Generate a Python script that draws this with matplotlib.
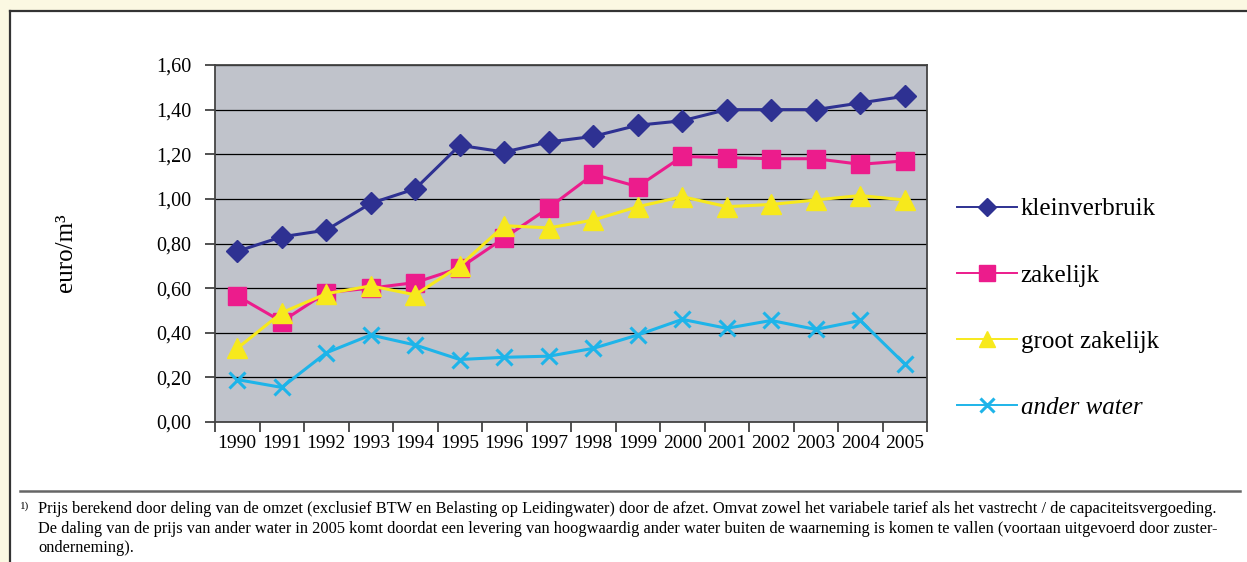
import matplotlib
matplotlib.use('Agg')
import matplotlib.pyplot as plt
from matplotlib.patches import Rectangle
from matplotlib.lines import Line2D
from matplotlib.ticker import FuncFormatter, FixedLocator
import numpy as np

# gegevens (euro/m3)
jaren = ['1990', '1991', '1992', '1993', '1994', '1995', '1996', '1997',
         '1998', '1999', '2000', '2001', '2002', '2003', '2004', '2005']
kleinverbruik = [0.765, 0.83, 0.86, 0.98, 1.045, 1.24, 1.21, 1.255,
                 1.28, 1.33, 1.35, 1.40, 1.40, 1.40, 1.43, 1.46]
zakelijk = [0.565, 0.45, 0.58, 0.60, 0.625, 0.69, 0.825, 0.96,
            1.11, 1.055, 1.19, 1.185, 1.18, 1.18, 1.155, 1.17]
groot_zakelijk = [0.33, 0.49, 0.575, 0.61, 0.57, 0.70, 0.88, 0.87,
                  0.905, 0.965, 1.01, 0.965, 0.975, 0.995, 1.015, 0.995]
ander_water = [0.19, 0.155, 0.31, 0.39, 0.345, 0.28, 0.29, 0.295,
               0.33, 0.39, 0.46, 0.42, 0.455, 0.415, 0.455, 0.26]

voetnoot = ("Prijs berekend door deling van de omzet (exclusief BTW en Belasting op Leidingwater) door de afzet. "
            "Omvat zowel het variabele tarief als het vastrecht / de capaciteitsvergoeding.\n"
            "De daling van de prijs van ander water in 2005 komt doordat een levering van hoogwaardig ander water "
            "buiten de waarneming is komen te vallen (voortaan uitgevoerd door zuster-\nonderneming).")

plt.rcParams['font.family'] = ['Liberation Serif', 'DejaVu Serif']

W, H = 1247, 562
fig = plt.figure(figsize=(W / 100, H / 100), dpi=100)
fig.patch.set_facecolor('#fbf8e2')

# wit kader
fig.add_artist(Rectangle((10 / W, 0), 1, 1 - 11 / H, transform=fig.transFigure,
                         facecolor='white', edgecolor='none', zorder=0))
fig.add_artist(Line2D([10 / W, 10 / W], [0, 1 - 11 / H], transform=fig.transFigure,
                      color='#333333', lw=1.6))
fig.add_artist(Line2D([10 / W, 1], [1 - 11 / H, 1 - 11 / H], transform=fig.transFigure,
                      color='#333333', lw=1.6))
fig.add_artist(Line2D([20 / W, 1240 / W], [1 - 491 / H, 1 - 491 / H], transform=fig.transFigure,
                      color='#666666', lw=1.8))

ax = fig.add_axes([215 / W, 1 - 422 / H, (927 - 215) / W, (422 - 65) / H])
ax.set_facecolor('#c0c3cb')

x = np.arange(len(jaren))
ax.plot(x, kleinverbruik, color='#2e3192', lw=2.2, marker='D', markersize=11,
        label='kleinverbruik', zorder=5)
ax.plot(x, zakelijk, color='#ec1c8c', lw=2.2, marker='s', markersize=13,
        label='zakelijk', zorder=4)
ax.plot(x, groot_zakelijk, color='#f7e91c', lw=2.2, marker='^', markersize=14,
        label='groot zakelijk', zorder=4)
ax.plot(x, ander_water, color='#1eb4e9', lw=2.2, marker='x', markersize=12,
        markeredgewidth=2.2, label='ander water', zorder=3)

ax.set_xlim(-0.5, len(jaren) - 0.5)
ax.set_ylim(0, 1.6)
ax.set_yticks(np.arange(0, 1.61, 0.2))
ax.yaxis.set_major_formatter(FuncFormatter(lambda v, p: f'{v:.2f}'.replace('.', ',')))
ax.yaxis.grid(True, color='black', lw=0.9)
ax.set_axisbelow(True)

ax.set_xticks(x)
ax.set_xticklabels(jaren)
ax.xaxis.set_minor_locator(FixedLocator(np.arange(-0.5, len(jaren), 1.0)))
ax.tick_params(axis='x', which='major', length=0, pad=9, labelsize=14)
ax.tick_params(axis='x', which='minor', length=7, width=1.2, color='#333333')
ax.tick_params(axis='y', length=7, width=1.2, color='#333333', pad=10, labelsize=14.5)

for s in ax.spines.values():
    s.set_color('#444444')
    s.set_linewidth(1.3)

ax.set_ylabel('euro/m³', fontsize=18)
ax.yaxis.set_label_coords(-0.194, 0.473)

leg = ax.legend(loc='center left', bbox_to_anchor=(1.028, 0.318), frameon=False,
                fontsize=18, handlelength=2.4, labelspacing=1.75, handletextpad=0.15,
                markerscale=0.85, borderaxespad=0)
for lh in leg.get_lines():
    lh.set_linewidth(1.4)
leg.get_texts()[3].set_style('italic')

fig.text(20 / W, 1 - 501 / H, '1)', fontsize=8, va='top', ha='left')
fig.text(38 / W, 1 - 501 / H, voetnoot, fontsize=11.8, va='top', ha='left',
         linespacing=1.3)

fig.savefig('out.png', dpi=100, facecolor=fig.get_facecolor())
